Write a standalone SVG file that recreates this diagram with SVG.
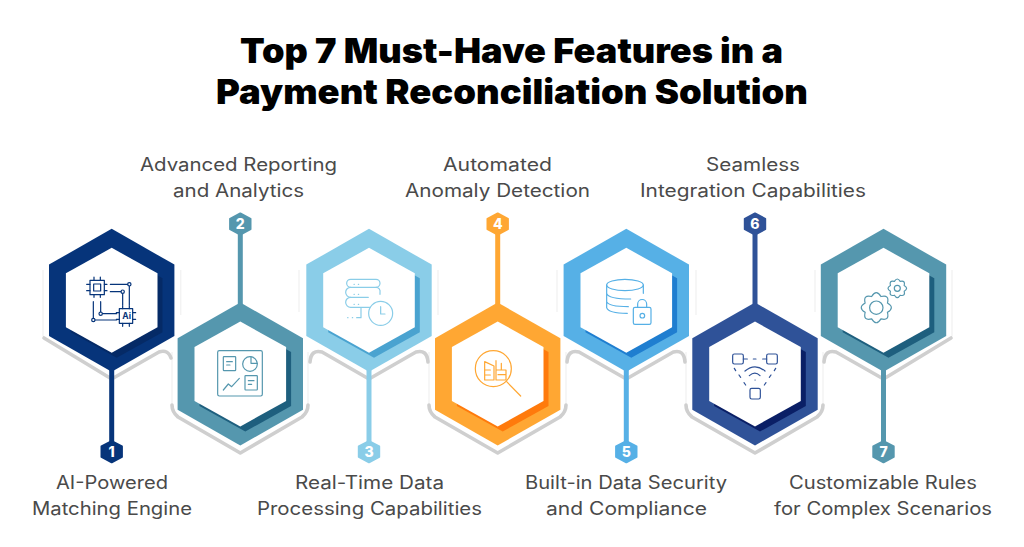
<svg xmlns="http://www.w3.org/2000/svg" xmlns:xlink="http://www.w3.org/1999/xlink" width="1024" height="547" viewBox="0 0 1024 547">
<style>
text{font-family:"Inter","Liberation Sans",sans-serif}
.title{font-size:34px;font-weight:900;fill:#000}
.label{font-size:18px;font-weight:400;fill:#4a4a4a}
.num{font-size:14px;font-weight:800;fill:#fff;text-anchor:middle}
.inner{fill:#fff}
.shadow{fill:none;stroke:#cfcfcf;stroke-width:3.6;stroke-linejoin:round;stroke-linecap:round}
.halo{fill:none;stroke:#f3f3f3;stroke-width:1.5}
.stem{fill:none;stroke-width:5}
.ic{fill:none;stroke-width:3.6;stroke-linecap:round;stroke-linejoin:round}
.badge{stroke-width:2;stroke-linejoin:round}
</style>
<defs>
<filter id="soft" x="-5%" y="-5%" width="110%" height="110%"><feGaussianBlur stdDeviation="0.6"/></filter>
<polygon id="hexO" points="0,-71.5 62.7,-35.7 62.7,35.7 0,71.5 -62.7,35.7 -62.7,-35.7"/>
<polygon id="hexI" points="0,-52.5 45.8,-27 45.8,27 0,52.5 -45.8,27 -45.8,-27"/>
<polygon id="hexB" points="0,-10.6 10.2,-5.2 10.2,5.2 0,10.6 -10.2,5.2 -10.2,-5.2"/>
<path id="gear" vector-effect="non-scaling-stroke" d="M.72,.30Q.863,.863 .30,.72Q0,1.22 -.30,.72Q-.863,.863 -.72,.30Q-1.22,0 -.72,-.30Q-.863,-.863 -.30,-.72Q0,-1.22 .30,-.72Q.863,-.863 .72,-.30Q1.22,0 .72,.30Z"/>
</defs>

<text class="title" x="240" y="62.5" textLength="543" lengthAdjust="spacingAndGlyphs">Top 7 Must-Have Features in a</text>
<text class="title" x="216" y="103.5" textLength="592" lengthAdjust="spacingAndGlyphs">Payment Reconciliation Solution</text>

<g id="shadows">
<path class="halo" d="M43,270V336M180.7,270V315M299,270V312M438,270V315M557,270V312M696,270V315M815,270V312M952,270V336"/>
<path class="halo" d="M172,352V405M308,352V405M429,352V405M566,352V405M686,352V405M823,352V405"/>
<g filter="url(#soft)">
<path class="shadow" d="M44,338L111.7,379L159,352Q168,349 171,358"/>
<path class="shadow" d="M310,362Q311,349 322,352L369,379L416,352Q427,349 428,362"/>
<path class="shadow" d="M567,362Q568,349 579,352L626.3,379L673.3,352Q684,349 685,362"/>
<path class="shadow" d="M824,362Q825,349 836,352L883.5,379L951,338"/>
<path class="shadow" d="M172,405Q172,412 178,417L240.3,453L302,417Q308,412 308,405"/>
<path class="shadow" d="M429,405Q429,412 435,417L497.7,453L560,417Q566,412 566,405"/>
<path class="shadow" d="M686,405Q686,412 692,417L755,453L817,417Q823,412 823,405"/>
</g>
</g>

<g id="connectors">
<line class="stem" stroke="#06347a" x1="111.7" y1="370" x2="111.7" y2="442"/>
<line class="stem" stroke="#5597ae" x1="240.3" y1="234" x2="240.3" y2="304"/>
<line class="stem" stroke="#8acde8" x1="369" y1="370" x2="369" y2="442"/>
<line class="stem" stroke="#ffa733" x1="497.7" y1="234" x2="497.7" y2="304"/>
<line class="stem" stroke="#56b0e6" x1="626.3" y1="370" x2="626.3" y2="442"/>
<line class="stem" stroke="#2f5298" x1="755" y1="234" x2="755" y2="304"/>
<line class="stem" stroke="#5597ae" x1="883.5" y1="370" x2="883.5" y2="442"/>
</g>

<g id="node1">
<use href="#hexO" x="111.7" y="300.3" fill="#06347a"/>
<use href="#hexI" x="116.7" y="305.3" fill="#052a66"/>
<use href="#hexI" x="111.7" y="300.3" class="inner"/>
<g class="ic" stroke="#06347a" transform="translate(75 265) scale(.3333)">
<rect x="45" y="46" width="43" height="43"/><rect x="56" y="57" width="21" height="21"/>
<path d="M35,58H45M35,77H45M88,58H96M88,77H96M57,36V46M76,36V46M57,89V97M76,89V97"/>
<path d="M106,58H158M163,64V120M106,80H138M143,86V120M55,110V160M77,110V141M61,165H125M83,146H125"/>
<circle cx="163" cy="58" r="5"/><circle cx="143" cy="80" r="5"/><circle cx="55" cy="165" r="5"/><circle cx="77" cy="146" r="5"/>
<rect x="133" y="131" width="40" height="44"/>
<path d="M124,143H133M124,163H133M173,143H182M173,163H182M143,122V131M163,122V131M143,175V184M163,175V184"/>
</g>
<text x="126.7" y="319.3" font-size="8.5" font-weight="700" fill="#06347a" text-anchor="middle">Ai</text>
<use href="#hexB" x="111.7" y="451.7" fill="#06347a" stroke="#06347a" class="badge"/>
<text class="num" x="111.7" y="456.8">1</text>
<text class="label" x="56" y="489" textLength="112" lengthAdjust="spacingAndGlyphs">AI-Powered</text>
<text class="label" x="32" y="515" textLength="160" lengthAdjust="spacingAndGlyphs">Matching Engine</text>
</g>

<g id="node2">
<use href="#hexO" x="240.3" y="374" fill="#5597ae"/>
<use href="#hexI" x="245.3" y="379" fill="#1e5f7e"/>
<use href="#hexI" x="240.3" y="374" class="inner"/>
<g class="ic" stroke="#5597ae" transform="translate(205 340) scale(.3333)">
<rect x="38" y="32" width="134" height="136" rx="5"/>
<rect x="55" y="50" width="37" height="42" rx="2"/><path d="M65,65H82M65,75H75"/>
<circle cx="135" cy="72" r="22"/><path d="M138,50V70H157"/>
<path d="M55,150L70,132L80,140L103,115"/>
<rect x="120" y="107" width="37" height="43" rx="2"/><path d="M130,122H147M130,133H140"/>
</g>
<use href="#hexB" x="240.3" y="224" fill="#5597ae" stroke="#5597ae" class="badge"/>
<text class="num" x="240.3" y="229.1">2</text>
<text class="label" x="140" y="171" textLength="197" lengthAdjust="spacingAndGlyphs">Advanced Reporting</text>
<text class="label" x="173" y="197" textLength="131" lengthAdjust="spacingAndGlyphs">and Analytics</text>
</g>

<g id="node3">
<use href="#hexO" x="369" y="300.3" fill="#8acde8"/>
<use href="#hexI" x="374" y="305.3" fill="#4aa3d0"/>
<use href="#hexI" x="369" y="300.3" class="inner"/>
<g class="ic" stroke="#8acde8" transform="translate(335 265) scale(.3333)">
<rect x="35" y="43" width="100" height="24" rx="12"/>
<path d="M47,67A12,12 0 0 0 47,97H100M123,67A12,12 0 0 1 135,82V88"/>
<path d="M47,97A12,12 0 0 0 47,127H105"/>
<path d="M57,58H58M70,58H71M57,88H58M70,88H71M57,118H58M70,118H71M38,158H39M52,158H53M65,158H78V130"/>
<circle cx="137" cy="145" r="36"/><path d="M137,125V147H150"/>
</g>
<use href="#hexB" x="369" y="451.7" fill="#8acde8" stroke="#8acde8" class="badge"/>
<text class="num" x="369" y="456.8">3</text>
<text class="label" x="295" y="489" textLength="149" lengthAdjust="spacingAndGlyphs">Real-Time Data</text>
<text class="label" x="257" y="515" textLength="225" lengthAdjust="spacingAndGlyphs">Processing Capabilities</text>
</g>

<g id="node4">
<use href="#hexO" x="497.7" y="374" fill="#ffa733"/>
<use href="#hexI" x="502.7" y="379" fill="#ff7a0c"/>
<use href="#hexI" x="497.7" y="374" class="inner"/>
<g class="ic" stroke="#ffa733" transform="translate(462 340) scale(.3333)">
<circle cx="94" cy="86" r="54"/><path d="M134,125L176,168"/>
<path d="M68,65L96,78V120H68ZM68,90H85M68,105H85"/>
<path d="M102,62V120H132V90H102M118,70V90M108,104H132"/>
</g>
<use href="#hexB" x="497.7" y="224" fill="#ffa733" stroke="#ffa733" class="badge"/>
<text class="num" x="497.7" y="229.1">4</text>
<text class="label" x="443" y="171" textLength="109" lengthAdjust="spacingAndGlyphs">Automated</text>
<text class="label" x="405" y="197" textLength="185" lengthAdjust="spacingAndGlyphs">Anomaly Detection</text>
</g>

<g id="node5">
<use href="#hexO" x="626.3" y="300.3" fill="#56b0e6"/>
<use href="#hexI" x="631.3" y="305.3" fill="#1f7ed0"/>
<use href="#hexI" x="626.3" y="300.3" class="inner"/>
<g class="ic" stroke="#56b0e6" transform="translate(590 265) scale(.3333)">
<ellipse cx="105" cy="60" rx="55" ry="17"/>
<path d="M50,60V128Q55,145 112,145M50,85Q55,102 122,102M50,110Q55,125 115,125M160,60V85"/>
<rect x="130" y="127" width="53" height="51" rx="5"/>
<path d="M143,127V117A13.5,13.5 0 0 1 170,117V127"/>
<circle cx="157" cy="152" r="7"/>
</g>
<use href="#hexB" x="626.3" y="451.7" fill="#56b0e6" stroke="#56b0e6" class="badge"/>
<text class="num" x="626.3" y="456.8">5</text>
<text class="label" x="525" y="489" textLength="202" lengthAdjust="spacingAndGlyphs">Built-in Data Security</text>
<text class="label" x="546" y="515" textLength="161" lengthAdjust="spacingAndGlyphs">and Compliance</text>
</g>

<g id="node6">
<use href="#hexO" x="755" y="374" fill="#2f5298"/>
<use href="#hexI" x="760" y="379" fill="#0a1f66"/>
<use href="#hexI" x="755" y="374" class="inner"/>
<g class="ic" stroke="#2f5298" transform="translate(720 340) scale(.3333)">
<rect x="38" y="42" width="32" height="30" rx="5"/><rect x="140" y="42" width="32" height="30" rx="5"/><rect x="90" y="145" width="31" height="32" rx="5"/>
<path d="M70,57H82M100,57H108M128,57H140"/>
<path d="M75,93Q105,68 135,93M88,107Q105,92 120,107M105,120H105.5"/>
<path d="M43,85L47,92M57,105L62,112M72,128L77,135M167,85L163,92M153,105L148,112M138,128L133,135"/>
</g>
<use href="#hexB" x="755" y="224" fill="#2f5298" stroke="#2f5298" class="badge"/>
<text class="num" x="755" y="229.1">6</text>
<text class="label" x="706" y="171" textLength="94" lengthAdjust="spacingAndGlyphs">Seamless</text>
<text class="label" x="640" y="197" textLength="226" lengthAdjust="spacingAndGlyphs">Integration Capabilities</text>
</g>

<g id="node7">
<use href="#hexO" x="883.5" y="300.3" fill="#5597ae"/>
<use href="#hexI" x="888.5" y="305.3" fill="#1e5f7e"/>
<use href="#hexI" x="883.5" y="300.3" class="inner"/>
<g fill="none" stroke="#5597ae" stroke-width="1.2">
<use href="#gear" transform="translate(876.3 307.7) scale(15.5)"/>
<circle cx="876.3" cy="307.7" r="6.7"/>
<use href="#gear" transform="translate(897.3 288.3) scale(9.6)"/>
<circle cx="897.3" cy="288.3" r="3"/>
</g>
<use href="#hexB" x="883.5" y="451.7" fill="#5597ae" stroke="#5597ae" class="badge"/>
<text class="num" x="883.5" y="456.8">7</text>
<text class="label" x="789" y="489" textLength="188" lengthAdjust="spacingAndGlyphs">Customizable Rules</text>
<text class="label" x="774" y="515" textLength="218" lengthAdjust="spacingAndGlyphs">for Complex Scenarios</text>
</g>
</svg>
